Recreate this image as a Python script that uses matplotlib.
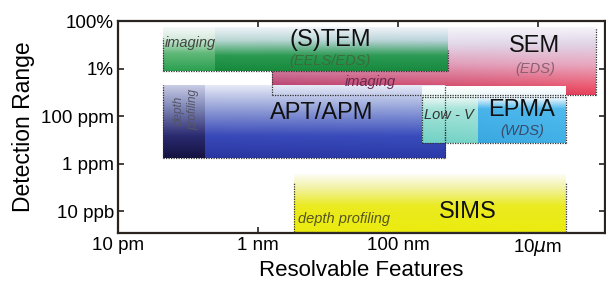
import numpy as np
import matplotlib
matplotlib.use("Agg")
import matplotlib.pyplot as plt
from matplotlib.colors import to_rgb

plt.rcParams['font.family'] = ['Liberation Sans', 'DejaVu Sans']

# ---------------- data ----------------
techniques = ["SEM", "(S)TEM", "APT/APM", "Low - V", "EPMA", "SIMS"]
res_min = [1.6e-9, 4.4e-11, 4.4e-11, 2.2e-7, 1.4e-6, 3.3e-9]     # m
res_max = [6.7e-5, 5.1e-7, 4.7e-7, 1.4e-6, 2.5e-5, 2.5e-5]       # m
det_max = [0.51, 0.51, 2.0e-3, 1.83e-3, 1.83e-3, 3.3e-7]          # fraction
det_min = [7.7e-4, 7.85e-3, 1.7e-6, 7.3e-6, 7.3e-6, 1.3e-9]       # fraction

# sub-regions (mode boxes)
tem_imaging_max = 2.43e-10
apt_depth_max = 1.75e-10
epma_line = 6.3e-4

xticks = [1e-11, 1e-9, 1e-7, 1e-5]
xticklabels = ["10 pm", "1 nm", "100 nm", r"10$\mu$m"]
yticks = [1.0, 1e-2, 1e-4, 1e-6, 1e-8]
yticklabels = ["100%", "1%", "100 ppm", "1 ppm", "10 ppb"]

XLIM = (1e-11, 9.06e-5)
YLIM = (1.19e-9, 1.0)

# ---------------- figure ----------------
fig = plt.figure(figsize=(6.06, 2.82), dpi=100)
ax = fig.add_axes([118/606, (282-233)/282, (605-118)/606, (233-21)/282])
ax.set_xscale('log')
ax.set_yscale('log')
ax.set_xlim(*XLIM)
ax.set_ylim(*YLIM)
to_axes = ax.transScale + ax.transLimits


def gradient_box(x0, x1, y0, y1, stops, nx=64, ny=128, z=1):
    """stops: list of (frac_from_bottom, color_left, color_right)"""
    fr = np.array([s[0] for s in stops])
    cl = np.array([to_rgb(s[1]) for s in stops])
    cr = np.array([to_rgb(s[2]) for s in stops])
    t = np.linspace(0, 1, ny)
    left = np.stack([np.interp(t, fr, cl[:, k]) for k in range(3)], axis=1)
    right = np.stack([np.interp(t, fr, cr[:, k]) for k in range(3)], axis=1)
    u = np.linspace(0, 1, nx)[None, :, None]
    img = left[:, None, :] * (1 - u) + right[:, None, :] * u
    (ax0, ay0), (ax1, ay1) = to_axes.transform([(x0, y0), (x1, y1)])
    ax.imshow(img, extent=[ax0, ax1, ay0, ay1], origin='lower', aspect='auto',
              interpolation='bilinear', zorder=z, transform=ax.transAxes)


def dotted(xs, ys, z=5):
    ax.plot(xs, ys, ls=(0, (1, 1)), color='#333333', lw=0.9, zorder=z)


# SEM
i = 0
gradient_box(res_min[i], res_max[i], det_min[i], det_max[i],
             [(0.0, '#7a1f5a', '#e8405c'), (0.12, '#b8406e', '#ec5a70'),
              (0.45, '#d890b0', '#e8a8c0'), (0.75, '#e4dcec', '#e0d4e6'),
              (1.0, '#f4f6fb', '#f6f4fa')], z=1)
dotted([res_min[i], res_max[i]], [det_min[i], det_min[i]])
dotted([res_max[i], res_max[i]], [det_min[i], det_max[i]])
dotted([res_min[i], res_min[i]], [det_min[i], det_min[1]])

# TEM
i = 1
gradient_box(res_min[i], res_max[i], det_min[i], det_max[i],
             [(0.0, '#158a3a', '#188a40'), (0.35, '#2a9a50', '#2c9a55'),
              (0.7, '#b8d8d0', '#bcd4dc'), (1.0, '#f0f4fa', '#f0f4fa')], z=2)
gradient_box(res_min[i], tem_imaging_max, det_min[i], det_max[i],
             [(0.0, '#2aa050', '#2aa050'), (0.4, '#60b878', '#60b878'),
              (0.75, '#d8ece0', '#d8ece0'), (1.0, '#f4f8f8', '#f4f8f8')], z=2)
dotted([res_min[i], res_max[i]], [det_min[i], det_min[i]])
dotted([res_max[i], res_max[i]], [det_min[i], 0.06])
dotted([res_min[i], res_min[i]], [det_min[i], 0.2])

# APT
i = 2
gradient_box(res_min[i], res_max[i], det_min[i], det_max[i],
             [(0.0, '#2a36a0', '#2a3aa8'), (0.3, '#3848b8', '#3a4cbc'),
              (0.65, '#8c98d4', '#8c9cd8'), (1.0, '#e6eaf6', '#e6eaf6')], z=2)
gradient_box(res_min[i], apt_depth_max, det_min[i], det_max[i],
             [(0.0, '#141240', '#141240'), (0.3, '#2a2a70', '#2a2a70'),
              (0.7, '#8088b8', '#8088b8'), (1.0, '#c8cce4', '#c8cce4')], z=2)
dotted([res_min[i], res_max[i]], [det_min[i], det_min[i]])
dotted([res_max[i], res_max[i]], [det_min[i], det_max[i]])
dotted([res_min[i], res_min[i]], [det_min[i], det_max[i]])

# Low-V
i = 3
gradient_box(res_min[i], res_max[i], det_min[i], det_max[i],
             [(0.0, '#70d0c4', '#78d4c8'), (0.6, '#a8e4da', '#a8e4da'),
              (0.78, '#e4f6f2', '#e4f6f2'), (1.0, '#ffffff', '#ffffff')], z=3)
# EPMA
i = 4
gradient_box(res_min[i], res_max[i], det_min[i], det_max[i],
             [(0.0, '#3aa8e0', '#40b0e6'), (0.6, '#48b4ea', '#50baee'),
              (0.78, '#e6f4fc', '#e6f4fc'), (1.0, '#ffffff', '#ffffff')], z=3)
dotted([res_min[3], res_max[4]], [epma_line, epma_line])
dotted([res_min[3], res_max[4]], [det_min[4], det_min[4]])
dotted([res_min[3], res_min[3]], [det_min[4], epma_line])
dotted([res_max[4], res_max[4]], [det_min[4], epma_line])
dotted([res_max[2], res_max[2]], [det_min[4], 3e-5])

# SIMS
i = 5
gradient_box(res_min[i], res_max[i], det_min[i], det_max[i],
             [(0.0, '#ecec10', '#ecec10'), (0.45, '#eaea20', '#eaea20'),
              (0.75, '#f2f2a0', '#f2f2a0'), (1.0, '#fdfdf6', '#fdfdf6')], z=2)
dotted([res_min[i], res_min[i]], [det_min[i], det_max[i] * 0.5])
dotted([res_max[i], res_max[i]], [det_min[i], det_max[i] * 0.5])
dotted([res_min[i], res_max[i]], [det_min[i] * 1.03, det_min[i] * 1.03])

# ---------------- labels ----------------
big = dict(fontsize=17, ha='center', va='center', color='#111111', zorder=10)
small = dict(fontsize=10.5, style='italic', zorder=10)

ax.text(1.07e-8, 0.158, techniques[1], **big)
ax.text(1.07e-8, 0.0207, "(EELS/EDS)", ha='center', va='center',
        color='#3d6b3a', **small)
ax.text(4.6e-11, 0.118, "imaging", ha='left', va='center', color='#444444', **small)
ax.text(9.06e-6, 0.089, techniques[0], **big)
ax.text(9.06e-6, 9.5e-3, "(EDS)", ha='center', va='center', color='#8a6070', **small)
ax.text(4e-8, 2.7e-3, "imaging", ha='center', va='center', color='#6a2a50', **small)
ax.text(8.2e-9, 1.34e-4, techniques[2], **big)
ax.text(9.3e-11, 1.8e-4, "depth\nprofiling", ha='center', va='center',
        rotation=90, color='#555566', linespacing=1.35,
        fontsize=8.5, style='italic', zorder=10)
ax.text(5.4e-7, 1.1e-4, techniques[3], ha='center', va='center',
        color='#333333', **small)
ax.text(5.9e-6, 1.8e-4, techniques[4], **big)
ax.text(5.9e-6, 2.3e-5, "(WDS)", ha='center', va='center', color='#3a4a6a', **small)
ax.text(3.7e-9, 4.6e-9, "depth profiling", ha='left', va='center',
        color='#555522', **small)
ax.text(1.0e-6, 9.1e-9, techniques[5], **big)

# ---------------- axes styling ----------------
ax.set_xlim(*XLIM)
ax.set_ylim(*YLIM)
ax.set_xticks(xticks)
ax.set_xticklabels(xticklabels)
ax.set_yticks(yticks)
ax.set_yticklabels(yticklabels)
ax.minorticks_off()
ax.tick_params(direction='in', top=True, right=True, length=4, width=1.2,
               labelsize=13.5, color='#222222', pad=3)
for s in ax.spines.values():
    s.set_linewidth(1.6)
    s.set_color('#2a2420')
ax.set_ylabel("Detection Range", fontsize=16.5, labelpad=4)
ax.set_xlabel("Resolvable Features", fontsize=16, labelpad=1)

fig.savefig("out.png", dpi=100)
